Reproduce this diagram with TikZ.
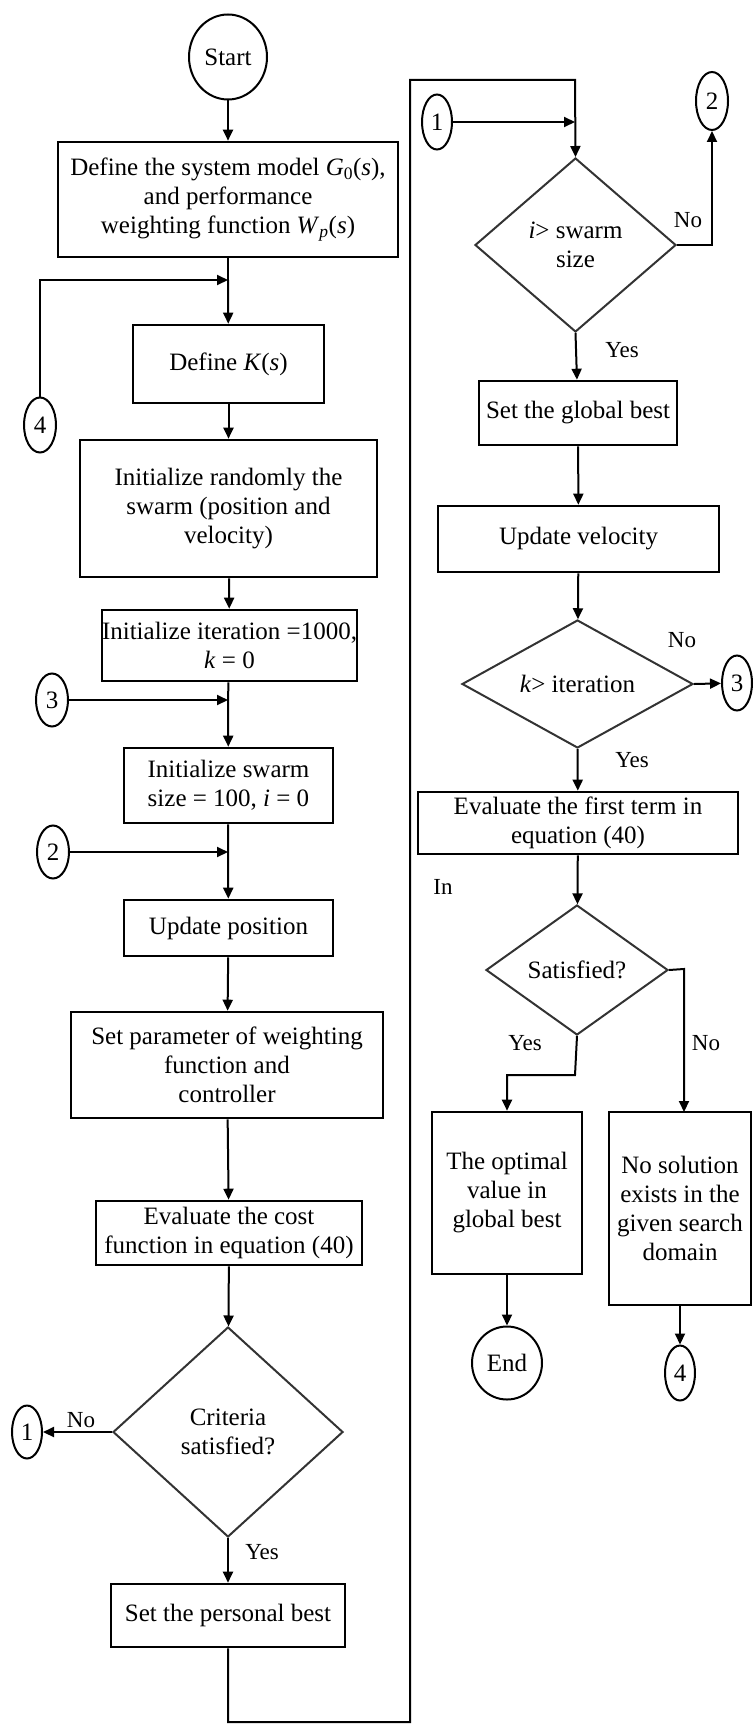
\documentclass[tikz,border=0pt]{standalone}
\usepackage{fontspec}
\setmainfont{Liberation Serif}
\usetikzlibrary{shapes.geometric,arrows.meta}
\begin{document}
\begin{tikzpicture}[x=1pt,y=-1pt,
  every node/.style={font=\fontsize{25}{29}\selectfont},
  proc/.style={draw, line width=2.6pt, rectangle, align=center, inner sep=0pt},
  dec/.style={draw=black!80, line width=2pt, diamond, align=center, inner sep=0pt},
  conn/.style={draw, line width=2pt, ellipse, inner sep=0pt},
  lbl/.style={font=\fontsize{23}{27}\selectfont},
  line/.style={line width=2pt},
  arr/.style={line width=2pt, -{Triangle[length=11pt,width=10pt]}},
]
\useasboundingbox (0,0) rectangle (753,1731);

% left column
\node[conn, minimum width=78, minimum height=85] (start) at (228,57) {Start};
\node[proc, minimum width=340, minimum height=115] (b1) at (228,199.5)
  {Define the system model \textit{G}\textsubscript{0}(\textit{s}),\\ and performance\\ weighting function \textit{W}\textsubscript{\textit{p}}(\textit{s})};
\coordinate (m1) at (228,280);
\node[proc, minimum width=191, minimum height=78] (b2) at (228.5,364) {Define \textit{K}(\textit{s})};
\node[conn, minimum width=32, minimum height=55] (c4L) at (40,425) {4};
\node[proc, minimum width=297, minimum height=137] (b3) at (228.5,508.5)
  {Initialize randomly the\\ swarm (position and\\ velocity)};
\node[proc, minimum width=237, minimum height=71] (b4) at (229.5,645.5)
  {Initialize iteration =1000,\\ \textit{k} = 0};
\node[conn, minimum width=32, minimum height=53] (c3L) at (52,700) {3};
\coordinate (m3) at (228,700);
\node[proc, minimum width=209, minimum height=75] (b5) at (228.5,785.5)
  {Initialize swarm\\ size = 100, \textit{i} = 0};
\node[conn, minimum width=32, minimum height=53] (c2L) at (53,852) {2};
\coordinate (m2) at (228,852);
\node[proc, minimum width=209, minimum height=56] (b6) at (228.5,928) {Update position};
\node[proc, minimum width=312, minimum height=106] (b7) at (227,1065)
  {Set parameter of weighting\\ function and\\ controller};
\node[proc, minimum width=266, minimum height=64] (b8) at (229,1233)
  {Evaluate the cost\\ function in equation (40)};
\node[dec, minimum width=230, minimum height=210, shape aspect=1.1] (d1) at (228,1432)
  {Criteria\\ satisfied?};
\node[conn, minimum width=30, minimum height=53] (c1L) at (27,1432) {1};
\node[proc, minimum width=234, minimum height=63] (b9) at (228,1615.5) {Set the personal best};

% right column
\node[conn, minimum width=30, minimum height=55] (c1R) at (437,122) {1};
\coordinate (m4) at (575,122);
\node[dec, minimum width=201, minimum height=174, shape aspect=1.15] (d2) at (575.5,245)
  {\textit{i}> swarm\\ size};
\node[conn, minimum width=32, minimum height=58] (c2R) at (712,101) {2};
\node[proc, minimum width=198, minimum height=64] (b10) at (578,413) {Set the global best};
\node[proc, minimum width=281, minimum height=66] (b11) at (578.5,539) {Update velocity};
\node[dec, minimum width=231, minimum height=128, shape aspect=1.8] (d3) at (577.5,684)
  {\textit{k}> iteration};
\node[conn, minimum width=30, minimum height=55] (c3R) at (737,683) {3};
\node[proc, minimum width=320, minimum height=62] (b12) at (578,823)
  {Evaluate the first term in\\ equation (40)};
\node[lbl] (stray) at (443,887) {In};
\node[dec, minimum width=182, minimum height=130, shape aspect=1.4] (d4) at (577,970)
  {Satisfied?};
\node[proc, minimum width=150, minimum height=162] (b13) at (507,1193)
  {The optimal\\ value in\\ global best};
\node[proc, minimum width=142, minimum height=193] (b14) at (680,1208.5)
  {No solution\\ exists in the\\ given search\\ domain};
\node[conn, minimum width=70, minimum height=73] (end) at (507,1363) {End};
\node[conn, minimum width=30, minimum height=55] (c4R) at (680,1373) {4};

% connectors left
\draw[arr] (start) -- (b1);
\draw[line] (b1) -- (m1);
\draw[arr] (c4L.north) |- (m1);
\draw[arr] (m1) -- (b2);
\draw[arr] (b2) -- (b3);
\draw[arr] (b3) -- (b4);
\draw[line] (b4) -- (m3);
\draw[arr] (c3L) -- (m3);
\draw[arr] (m3) -- (b5);
\draw[line] (b5) -- (m2);
\draw[arr] (c2L) -- (m2);
\draw[arr] (m2) -- (b6);
\draw[arr] (b6) -- (b7);
\draw[arr] (b7) -- (b8);
\draw[arr] (b8) -- (d1);
\draw[arr] (d1.west) -- node[lbl, above, pos=0.45] {No} (c1L);
\draw[arr] (d1.south) -- (b9);
\node[lbl] at (262,1552) {Yes};
\draw[arr] (b9.south) -- (228,1722) -- (410,1722) -- (410,80) -- (575,80) -- (d2.north);

% connectors right
\draw[arr] (c1R) -- (m4);
\draw[arr] (d2.east) -| (c2R.south);
\node[lbl] at (688,220) {No};
\draw[arr] (d2.south) -- (b10);
\node[lbl] at (622,350) {Yes};
\draw[arr] (b10) -- (b11);
\draw[arr] (b11) -- (d3);
\draw[arr] (d3.east) -- (c3R);
\node[lbl] at (682,640) {No};
\draw[arr] (d3.south) -- (b12);
\node[lbl] at (632,760) {Yes};
\draw[arr] (b12) -- (d4);
\draw[arr] (d4.south) -- (575,1075) -| (b13.north);
\node[lbl] at (525,1043) {Yes};
\draw[arr] (d4.east) -- (684,969) -- (684,1112);
\node[lbl] at (706,1043) {No};
\draw[arr] (b13) -- (end);
\draw[arr] (b14.south -| c4R) -- (c4R);
\end{tikzpicture}
\end{document}
